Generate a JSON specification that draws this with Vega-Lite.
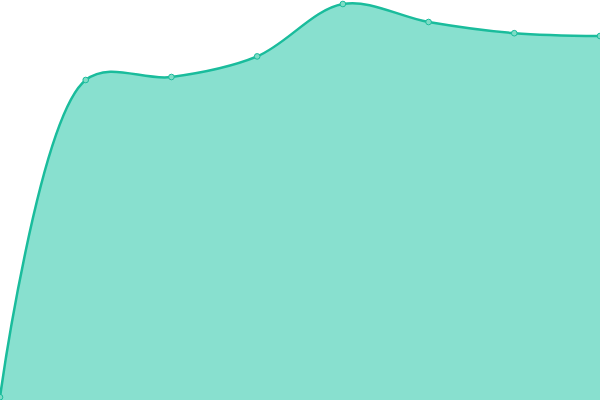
{
  "$schema": "https://vega.github.io/schema/vega-lite/v6.json",
  "width": 600,
  "height": 400,
  "autosize": {"type": "fit", "contains": "padding"},
  "padding": 0,
  "background": "white",
  "view": {"stroke": null},
  "data": {
    "values": [
      {"i": 0, "v": 0.7},
      {"i": 1, "v": 80},
      {"i": 2, "v": 80.75},
      {"i": 3, "v": 85.9},
      {"i": 4, "v": 99},
      {"i": 5, "v": 94.5},
      {"i": 6, "v": 91.7},
      {"i": 7, "v": 91}
    ]
  },
  "encoding": {
    "x": {"field": "i", "type": "quantitative", "axis": null, "scale": {"domain": [0, 7], "nice": false, "zero": false}},
    "y": {"field": "v", "type": "quantitative", "axis": null, "scale": {"domain": [0, 100], "nice": false}}
  },
  "layer": [
    {"mark": {"type": "area", "interpolate": "catmull-rom", "color": "#88e0cf", "opacity": 1, "clip": true}},
    {"mark": {"type": "line", "interpolate": "catmull-rom", "color": "#1abc9c", "strokeWidth": 2.5, "clip": true}},
    {"mark": {"type": "point", "filled": true, "size": 32, "fill": "#7fdcc6", "stroke": "#1abc9c", "strokeWidth": 1, "opacity": 1, "clip": true}}
  ]
}
